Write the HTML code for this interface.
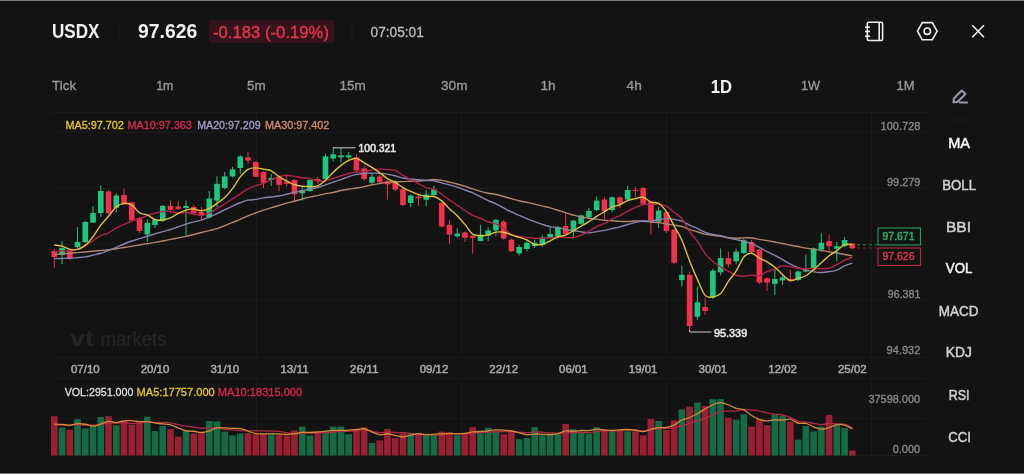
<!DOCTYPE html>
<html><head><meta charset="utf-8">
<style>
html,body{margin:0;padding:0;}
body{width:1024px;height:474px;overflow:hidden;background:#131313;position:relative;font-family:"Liberation Sans",sans-serif;}
#top{position:absolute;left:0;top:0;width:1024px;height:1px;background:#7f7f7f;}
#top2{position:absolute;left:0;top:1px;width:1024px;height:1px;background:#0b0b0b;}
#bot{position:absolute;left:0;top:473px;width:1024px;height:1px;background:#777;}
#bot2{position:absolute;left:0;top:472px;width:1024px;height:1px;background:#0c0c0c;}
svg{position:absolute;left:0;top:0;will-change:transform;filter:blur(0.35px);}
</style></head><body>
<div id="top"></div><div id="top2"></div><div id="bot2"></div><div id="bot"></div>
<svg width="1024" height="474" viewBox="0 0 1024 474">
<line x1="51" y1="112.5" x2="926" y2="112.5" stroke="#1b1b1b" stroke-width="1"/>
<line x1="51" y1="132.5" x2="926" y2="132.5" stroke="#1b1b1b" stroke-width="1"/>
<line x1="51" y1="188.5" x2="926" y2="188.5" stroke="#1b1b1b" stroke-width="1"/>
<line x1="51" y1="244.5" x2="926" y2="244.5" stroke="#1b1b1b" stroke-width="1"/>
<line x1="51" y1="300.5" x2="926" y2="300.5" stroke="#1b1b1b" stroke-width="1"/>
<line x1="51" y1="357.5" x2="926" y2="357.5" stroke="#1b1b1b" stroke-width="1"/>
<line x1="51" y1="378.5" x2="926" y2="378.5" stroke="#1b1b1b" stroke-width="1"/>
<line x1="51" y1="418.5" x2="926" y2="418.5" stroke="#1b1b1b" stroke-width="1"/>
<line x1="51" y1="455.5" x2="926" y2="455.5" stroke="#1b1b1b" stroke-width="1"/>
<line x1="256.5" y1="112.5" x2="256.5" y2="357.5" stroke="#1b1b1b" stroke-width="1"/>
<line x1="256.5" y1="378.5" x2="256.5" y2="455.5" stroke="#1b1b1b" stroke-width="1"/>
<line x1="461.5" y1="112.5" x2="461.5" y2="357.5" stroke="#1b1b1b" stroke-width="1"/>
<line x1="461.5" y1="378.5" x2="461.5" y2="455.5" stroke="#1b1b1b" stroke-width="1"/>
<line x1="666.5" y1="112.5" x2="666.5" y2="357.5" stroke="#1b1b1b" stroke-width="1"/>
<line x1="666.5" y1="378.5" x2="666.5" y2="455.5" stroke="#1b1b1b" stroke-width="1"/>
<line x1="871.5" y1="112.5" x2="871.5" y2="357.5" stroke="#1b1b1b" stroke-width="1"/>
<line x1="871.5" y1="378.5" x2="871.5" y2="455.5" stroke="#1b1b1b" stroke-width="1"/>
<text x="70" y="345.5" font-family="Liberation Sans" font-weight="bold" font-size="22" fill="#252525" textLength="24" lengthAdjust="spacingAndGlyphs">vt</text>
<text x="100.5" y="345.5" font-family="Liberation Sans" font-size="21" fill="#272727" textLength="66" lengthAdjust="spacingAndGlyphs">markets</text>
<rect x="51.00" y="416.20" width="6.6" height="39.30" fill="#9a1f33"/>
<rect x="58.75" y="427.60" width="6.6" height="27.90" fill="#156b45"/>
<rect x="66.50" y="429.70" width="6.6" height="25.80" fill="#9a1f33"/>
<rect x="74.24" y="419.20" width="6.6" height="36.30" fill="#156b45"/>
<rect x="81.99" y="428.50" width="6.6" height="27.00" fill="#156b45"/>
<rect x="89.74" y="426.00" width="6.6" height="29.50" fill="#156b45"/>
<rect x="97.49" y="417.00" width="6.6" height="38.50" fill="#156b45"/>
<rect x="105.24" y="416.20" width="6.6" height="39.30" fill="#9a1f33"/>
<rect x="112.98" y="425.30" width="6.6" height="30.20" fill="#156b45"/>
<rect x="120.73" y="420.30" width="6.6" height="35.20" fill="#9a1f33"/>
<rect x="128.48" y="424.70" width="6.6" height="30.80" fill="#9a1f33"/>
<rect x="136.23" y="421.50" width="6.6" height="34.00" fill="#9a1f33"/>
<rect x="143.98" y="416.70" width="6.6" height="38.80" fill="#156b45"/>
<rect x="151.72" y="431.00" width="6.6" height="24.50" fill="#156b45"/>
<rect x="159.47" y="426.00" width="6.6" height="29.50" fill="#156b45"/>
<rect x="167.22" y="429.00" width="6.6" height="26.50" fill="#9a1f33"/>
<rect x="174.97" y="436.70" width="6.6" height="18.80" fill="#9a1f33"/>
<rect x="182.72" y="431.00" width="6.6" height="24.50" fill="#156b45"/>
<rect x="190.46" y="433.50" width="6.6" height="22.00" fill="#9a1f33"/>
<rect x="198.21" y="432.30" width="6.6" height="23.20" fill="#9a1f33"/>
<rect x="205.96" y="420.90" width="6.6" height="34.60" fill="#156b45"/>
<rect x="213.71" y="421.50" width="6.6" height="34.00" fill="#156b45"/>
<rect x="221.46" y="431.60" width="6.6" height="23.90" fill="#156b45"/>
<rect x="229.20" y="435.40" width="6.6" height="20.10" fill="#156b45"/>
<rect x="236.95" y="433.50" width="6.6" height="22.00" fill="#156b45"/>
<rect x="244.70" y="433.20" width="6.6" height="22.30" fill="#9a1f33"/>
<rect x="252.45" y="434.20" width="6.6" height="21.30" fill="#9a1f33"/>
<rect x="260.20" y="433.50" width="6.6" height="22.00" fill="#9a1f33"/>
<rect x="267.94" y="434.20" width="6.6" height="21.30" fill="#156b45"/>
<rect x="275.69" y="434.80" width="6.6" height="20.70" fill="#9a1f33"/>
<rect x="283.44" y="435.40" width="6.6" height="20.10" fill="#9a1f33"/>
<rect x="291.19" y="430.40" width="6.6" height="25.10" fill="#9a1f33"/>
<rect x="298.94" y="426.60" width="6.6" height="28.90" fill="#156b45"/>
<rect x="306.68" y="435.40" width="6.6" height="20.10" fill="#156b45"/>
<rect x="314.43" y="432.30" width="6.6" height="23.20" fill="#9a1f33"/>
<rect x="322.18" y="431.00" width="6.6" height="24.50" fill="#156b45"/>
<rect x="329.93" y="426.60" width="6.6" height="28.90" fill="#156b45"/>
<rect x="337.68" y="426.60" width="6.6" height="28.90" fill="#156b45"/>
<rect x="345.42" y="434.20" width="6.6" height="21.30" fill="#156b45"/>
<rect x="353.17" y="429.10" width="6.6" height="26.40" fill="#9a1f33"/>
<rect x="360.92" y="427.20" width="6.6" height="28.30" fill="#9a1f33"/>
<rect x="368.67" y="443.00" width="6.6" height="12.50" fill="#156b45"/>
<rect x="376.42" y="440.50" width="6.6" height="15.00" fill="#9a1f33"/>
<rect x="384.16" y="428.90" width="6.6" height="26.60" fill="#9a1f33"/>
<rect x="391.91" y="438.00" width="6.6" height="17.50" fill="#9a1f33"/>
<rect x="399.66" y="433.50" width="6.6" height="22.00" fill="#9a1f33"/>
<rect x="407.41" y="434.20" width="6.6" height="21.30" fill="#156b45"/>
<rect x="415.16" y="433.50" width="6.6" height="22.00" fill="#9a1f33"/>
<rect x="422.90" y="435.40" width="6.6" height="20.10" fill="#156b45"/>
<rect x="430.65" y="434.20" width="6.6" height="21.30" fill="#156b45"/>
<rect x="438.40" y="431.60" width="6.6" height="23.90" fill="#9a1f33"/>
<rect x="446.15" y="432.30" width="6.6" height="23.20" fill="#9a1f33"/>
<rect x="453.90" y="435.40" width="6.6" height="20.10" fill="#156b45"/>
<rect x="461.64" y="433.00" width="6.6" height="22.50" fill="#9a1f33"/>
<rect x="469.39" y="427.20" width="6.6" height="28.30" fill="#9a1f33"/>
<rect x="477.14" y="430.40" width="6.6" height="25.10" fill="#156b45"/>
<rect x="484.89" y="427.80" width="6.6" height="27.70" fill="#156b45"/>
<rect x="492.64" y="431.00" width="6.6" height="24.50" fill="#156b45"/>
<rect x="500.38" y="434.20" width="6.6" height="21.30" fill="#9a1f33"/>
<rect x="508.13" y="431.60" width="6.6" height="23.90" fill="#9a1f33"/>
<rect x="515.88" y="439.20" width="6.6" height="16.30" fill="#156b45"/>
<rect x="523.63" y="438.00" width="6.6" height="17.50" fill="#156b45"/>
<rect x="531.38" y="427.20" width="6.6" height="28.30" fill="#156b45"/>
<rect x="539.12" y="435.40" width="6.6" height="20.10" fill="#156b45"/>
<rect x="546.87" y="433.50" width="6.6" height="22.00" fill="#156b45"/>
<rect x="554.62" y="434.20" width="6.6" height="21.30" fill="#156b45"/>
<rect x="562.37" y="424.00" width="6.6" height="31.50" fill="#9a1f33"/>
<rect x="570.12" y="429.10" width="6.6" height="26.40" fill="#156b45"/>
<rect x="577.86" y="431.60" width="6.6" height="23.90" fill="#156b45"/>
<rect x="585.61" y="433.50" width="6.6" height="22.00" fill="#156b45"/>
<rect x="593.36" y="427.20" width="6.6" height="28.30" fill="#156b45"/>
<rect x="601.11" y="429.10" width="6.6" height="26.40" fill="#9a1f33"/>
<rect x="608.86" y="430.40" width="6.6" height="25.10" fill="#156b45"/>
<rect x="616.60" y="429.40" width="6.6" height="26.10" fill="#9a1f33"/>
<rect x="624.35" y="431.40" width="6.6" height="24.10" fill="#156b45"/>
<rect x="632.10" y="431.40" width="6.6" height="24.10" fill="#9a1f33"/>
<rect x="639.85" y="435.50" width="6.6" height="20.00" fill="#9a1f33"/>
<rect x="647.60" y="419.00" width="6.6" height="36.50" fill="#9a1f33"/>
<rect x="655.34" y="421.00" width="6.6" height="34.50" fill="#156b45"/>
<rect x="663.09" y="430.00" width="6.6" height="25.50" fill="#9a1f33"/>
<rect x="670.84" y="420.40" width="6.6" height="35.10" fill="#9a1f33"/>
<rect x="678.59" y="409.40" width="6.6" height="46.10" fill="#156b45"/>
<rect x="686.34" y="406.70" width="6.6" height="48.80" fill="#9a1f33"/>
<rect x="694.08" y="402.50" width="6.6" height="53.00" fill="#156b45"/>
<rect x="701.83" y="406.00" width="6.6" height="49.50" fill="#9a1f33"/>
<rect x="709.58" y="399.10" width="6.6" height="56.40" fill="#156b45"/>
<rect x="717.33" y="399.10" width="6.6" height="56.40" fill="#156b45"/>
<rect x="725.08" y="417.60" width="6.6" height="37.90" fill="#9a1f33"/>
<rect x="732.82" y="419.70" width="6.6" height="35.80" fill="#156b45"/>
<rect x="740.57" y="414.20" width="6.6" height="41.30" fill="#156b45"/>
<rect x="748.32" y="426.60" width="6.6" height="28.90" fill="#9a1f33"/>
<rect x="756.07" y="419.00" width="6.6" height="36.50" fill="#9a1f33"/>
<rect x="763.82" y="425.20" width="6.6" height="30.30" fill="#9a1f33"/>
<rect x="771.56" y="414.20" width="6.6" height="41.30" fill="#156b45"/>
<rect x="779.31" y="415.60" width="6.6" height="39.90" fill="#156b45"/>
<rect x="787.06" y="421.70" width="6.6" height="33.80" fill="#9a1f33"/>
<rect x="794.81" y="439.60" width="6.6" height="15.90" fill="#156b45"/>
<rect x="802.56" y="425.90" width="6.6" height="29.60" fill="#156b45"/>
<rect x="810.30" y="431.40" width="6.6" height="24.10" fill="#156b45"/>
<rect x="818.05" y="426.60" width="6.6" height="28.90" fill="#156b45"/>
<rect x="825.80" y="414.90" width="6.6" height="40.60" fill="#9a1f33"/>
<rect x="833.55" y="424.50" width="6.6" height="31.00" fill="#156b45"/>
<rect x="841.30" y="428.00" width="6.6" height="27.50" fill="#156b45"/>
<rect x="849.04" y="450.60" width="6.6" height="4.90" fill="#9a1f33"/>
<path d="M54.30,425.02 C55.59,425.05 59.47,425.09 62.05,425.18 C64.63,425.27 67.21,425.60 69.80,425.55 C72.38,425.50 74.96,424.94 77.54,424.87 C80.13,424.80 82.71,425.08 85.29,425.12 C87.87,425.16 90.46,425.27 93.04,425.12 C95.62,424.97 98.21,424.53 100.79,424.22 C103.37,423.91 105.95,423.42 108.54,423.24 C111.12,423.06 113.70,423.28 116.28,423.17 C118.87,423.06 121.45,422.55 124.03,422.60 C126.61,422.65 129.20,423.41 131.78,423.45 C134.36,423.49 136.95,423.16 139.53,422.84 C142.11,422.52 144.69,421.56 147.28,421.54 C149.86,421.52 152.44,422.57 155.02,422.72 C157.61,422.88 160.19,422.46 162.77,422.47 C165.35,422.48 167.94,422.39 170.52,422.77 C173.10,423.15 175.69,424.17 178.27,424.74 C180.85,425.31 183.43,425.84 186.02,426.22 C188.60,426.60 191.18,426.70 193.76,427.04 C196.35,427.38 198.93,428.10 201.51,428.24 C204.09,428.38 206.68,427.92 209.26,427.86 C211.84,427.80 214.43,427.61 217.01,427.86 C219.59,428.11 222.17,429.03 224.76,429.35 C227.34,429.67 229.92,429.59 232.50,429.79 C235.09,429.99 237.67,430.35 240.25,430.54 C242.83,430.74 245.42,430.93 248.00,430.96 C250.58,430.99 253.17,430.71 255.75,430.71 C258.33,430.71 260.91,430.91 263.50,430.96 C266.08,431.01 268.66,430.98 271.24,431.03 C273.83,431.08 276.41,431.00 278.99,431.28 C281.57,431.56 284.16,432.34 286.74,432.73 C289.32,433.12 291.91,433.56 294.49,433.62 C297.07,433.69 299.65,433.20 302.24,433.12 C304.82,433.04 307.40,433.14 309.98,433.12 C312.57,433.10 315.15,433.06 317.73,433.00 C320.31,432.94 322.90,432.94 325.48,432.78 C328.06,432.62 330.65,432.26 333.23,432.02 C335.81,431.78 338.39,431.44 340.98,431.33 C343.56,431.21 346.14,431.42 348.72,431.33 C351.31,431.24 353.89,430.99 356.47,430.76 C359.05,430.53 361.64,429.87 364.22,429.94 C366.80,430.01 369.39,430.76 371.97,431.20 C374.55,431.64 377.13,432.47 379.72,432.59 C382.30,432.71 384.88,431.95 387.46,431.94 C390.05,431.93 392.63,432.37 395.21,432.51 C397.79,432.65 400.38,432.59 402.96,432.76 C405.54,432.93 408.13,433.28 410.71,433.52 C413.29,433.76 415.87,434.07 418.46,434.21 C421.04,434.34 423.62,434.22 426.20,434.33 C428.79,434.44 431.37,434.68 433.95,434.84 C436.53,435.00 439.12,435.38 441.70,435.28 C444.28,435.17 446.87,434.47 449.45,434.21 C452.03,433.95 454.61,433.72 457.20,433.70 C459.78,433.68 462.36,434.22 464.94,434.11 C467.53,434.00 470.11,433.26 472.69,433.03 C475.27,432.80 477.86,432.88 480.44,432.72 C483.02,432.56 485.61,432.23 488.19,432.08 C490.77,431.93 493.35,431.89 495.94,431.83 C498.52,431.77 501.10,431.77 503.68,431.71 C506.27,431.65 508.85,431.37 511.43,431.45 C514.01,431.53 516.60,431.99 519.18,432.21 C521.76,432.43 524.35,432.82 526.93,432.78 C529.51,432.74 532.09,432.06 534.68,431.96 C537.26,431.86 539.84,432.06 542.42,432.20 C545.01,432.34 547.59,432.66 550.17,432.83 C552.75,433.00 555.34,433.21 557.92,433.21 C560.50,433.21 563.09,432.92 565.67,432.83 C568.25,432.74 570.83,432.71 573.42,432.64 C576.00,432.56 578.58,432.39 581.16,432.38 C583.75,432.37 586.33,432.74 588.91,432.57 C591.49,432.40 594.08,431.72 596.66,431.37 C599.24,431.02 601.83,430.58 604.41,430.48 C606.99,430.38 609.57,430.85 612.16,430.80 C614.74,430.75 617.32,430.33 619.90,430.20 C622.49,430.06 625.07,430.07 627.65,429.99 C630.23,429.91 632.82,429.56 635.40,429.71 C637.98,429.85 640.57,430.84 643.15,430.86 C645.73,430.88 648.31,430.20 650.90,429.85 C653.48,429.50 656.06,429.02 658.64,428.79 C661.23,428.55 663.81,428.61 666.39,428.44 C668.97,428.27 671.56,428.20 674.14,427.76 C676.72,427.32 679.31,426.51 681.89,425.79 C684.47,425.07 687.05,424.26 689.64,423.42 C692.22,422.58 694.80,421.60 697.38,420.73 C699.97,419.86 702.55,419.15 705.13,418.19 C707.71,417.23 710.30,416.10 712.88,414.96 C715.46,413.81 718.05,411.95 720.63,411.32 C723.21,410.69 725.79,411.23 728.38,411.18 C730.96,411.13 733.54,411.34 736.12,411.05 C738.71,410.76 741.29,409.63 743.87,409.47 C746.45,409.31 749.04,409.83 751.62,410.09 C754.20,410.35 756.79,410.58 759.37,411.05 C761.95,411.52 764.53,412.40 767.12,412.90 C769.70,413.40 772.28,413.71 774.86,414.07 C777.45,414.43 780.03,414.49 782.61,415.03 C785.19,415.57 787.78,416.24 790.36,417.29 C792.94,418.34 795.53,420.53 798.11,421.34 C800.69,422.15 803.27,421.84 805.86,422.17 C808.44,422.50 811.02,422.94 813.60,423.34 C816.19,423.74 818.77,424.57 821.35,424.58 C823.93,424.59 826.52,423.51 829.10,423.41 C831.68,423.31 834.27,423.82 836.85,423.96 C839.43,424.10 842.01,423.59 844.60,424.24 C847.18,424.89 851.05,427.27 852.34,427.88" fill="none" stroke="#b02842" stroke-width="1.3"/>
<path d="M54.30,424.04 C55.59,424.09 59.47,424.18 62.05,424.36 C64.63,424.54 67.21,425.20 69.80,425.10 C72.38,425.00 74.96,423.88 77.54,423.74 C80.13,423.60 82.71,423.83 85.29,424.24 C87.87,424.65 90.46,426.23 93.04,426.20 C95.62,426.17 98.21,424.88 100.79,424.08 C103.37,423.28 105.95,421.63 108.54,421.38 C111.12,421.13 113.70,422.67 116.28,422.60 C118.87,422.53 121.45,421.28 124.03,420.96 C126.61,420.64 129.20,420.59 131.78,420.70 C134.36,420.81 136.95,421.43 139.53,421.60 C142.11,421.77 144.69,421.49 147.28,421.70 C149.86,421.91 152.44,422.46 155.02,422.84 C157.61,423.22 160.19,423.65 162.77,423.98 C165.35,424.31 167.94,424.19 170.52,424.84 C173.10,425.49 175.69,426.90 178.27,427.88 C180.85,428.86 183.43,430.18 186.02,430.74 C188.60,431.30 191.18,430.95 193.76,431.24 C196.35,431.53 198.93,432.56 201.51,432.50 C204.09,432.44 206.68,431.66 209.26,430.88 C211.84,430.10 214.43,428.33 217.01,427.84 C219.59,427.35 222.17,427.88 224.76,427.96 C227.34,428.04 229.92,428.24 232.50,428.34 C235.09,428.44 237.67,428.13 240.25,428.58 C242.83,429.03 245.42,430.21 248.00,431.04 C250.58,431.87 253.17,433.09 255.75,433.58 C258.33,434.07 260.91,433.94 263.50,433.96 C266.08,433.98 268.66,433.72 271.24,433.72 C273.83,433.72 276.41,433.86 278.99,433.98 C281.57,434.10 284.16,434.47 286.74,434.42 C289.32,434.37 291.91,434.02 294.49,433.66 C297.07,433.30 299.65,432.47 302.24,432.28 C304.82,432.09 307.40,432.56 309.98,432.52 C312.57,432.48 315.15,432.25 317.73,432.02 C320.31,431.79 322.90,431.41 325.48,431.14 C328.06,430.87 330.65,430.51 333.23,430.38 C335.81,430.25 338.39,430.42 340.98,430.38 C343.56,430.34 346.14,430.29 348.72,430.14 C351.31,429.99 353.89,429.73 356.47,429.50 C359.05,429.27 361.64,428.32 364.22,428.74 C366.80,429.16 369.39,431.01 371.97,432.02 C374.55,433.03 377.13,434.51 379.72,434.80 C382.30,435.09 384.88,433.62 387.46,433.74 C390.05,433.86 392.63,435.01 395.21,435.52 C397.79,436.03 400.38,436.86 402.96,436.78 C405.54,436.70 408.13,435.55 410.71,435.02 C413.29,434.49 415.87,433.64 418.46,433.62 C421.04,433.60 423.62,434.83 426.20,434.92 C428.79,435.01 431.37,434.35 433.95,434.16 C436.53,433.97 439.12,433.91 441.70,433.78 C444.28,433.65 446.87,433.40 449.45,433.40 C452.03,433.40 454.61,433.80 457.20,433.78 C459.78,433.76 462.36,433.61 464.94,433.30 C467.53,432.99 470.11,432.17 472.69,431.90 C475.27,431.63 477.86,431.85 480.44,431.66 C483.02,431.47 485.61,431.06 488.19,430.76 C490.77,430.46 493.35,429.99 495.94,429.88 C498.52,429.77 501.10,429.93 503.68,430.12 C506.27,430.31 508.85,430.56 511.43,431.00 C514.01,431.44 516.60,432.13 519.18,432.76 C521.76,433.39 524.35,434.59 526.93,434.80 C529.51,435.01 532.09,434.13 534.68,434.04 C537.26,433.95 539.84,434.18 542.42,434.28 C545.01,434.38 547.59,434.76 550.17,434.66 C552.75,434.56 555.34,434.29 557.92,433.66 C560.50,433.03 563.09,431.26 565.67,430.86 C568.25,430.46 570.83,431.30 573.42,431.24 C576.00,431.18 578.58,430.61 581.16,430.48 C583.75,430.35 586.33,430.71 588.91,430.48 C591.49,430.25 594.08,429.14 596.66,429.08 C599.24,429.02 601.83,429.89 604.41,430.10 C606.99,430.31 609.57,430.39 612.16,430.36 C614.74,430.33 617.32,430.06 619.90,429.92 C622.49,429.78 625.07,429.43 627.65,429.50 C630.23,429.57 632.82,429.99 635.40,430.34 C637.98,430.69 640.57,431.79 643.15,431.62 C645.73,431.45 648.31,430.00 650.90,429.34 C653.48,428.68 656.06,427.99 658.64,427.66 C661.23,427.33 663.81,427.79 666.39,427.38 C668.97,426.97 671.56,426.42 674.14,425.18 C676.72,423.94 679.31,421.24 681.89,419.96 C684.47,418.68 687.05,418.53 689.64,417.50 C692.22,416.47 694.80,415.22 697.38,413.80 C699.97,412.38 702.55,410.51 705.13,409.00 C707.71,407.49 710.30,405.79 712.88,404.74 C715.46,403.69 718.05,402.66 720.63,402.68 C723.21,402.70 725.79,403.92 728.38,404.86 C730.96,405.80 733.54,407.45 736.12,408.30 C738.71,409.15 741.29,408.75 743.87,409.94 C746.45,411.13 749.04,413.86 751.62,415.44 C754.20,417.02 756.79,418.50 759.37,419.42 C761.95,420.34 764.53,420.87 767.12,420.94 C769.70,421.01 772.28,419.98 774.86,419.84 C777.45,419.70 780.03,420.24 782.61,420.12 C785.19,420.00 787.78,418.62 790.36,419.14 C792.94,419.66 795.53,422.55 798.11,423.26 C800.69,423.97 803.27,422.80 805.86,423.40 C808.44,424.00 811.02,425.90 813.60,426.84 C816.19,427.78 818.77,428.90 821.35,429.04 C823.93,429.18 826.52,428.41 829.10,427.68 C831.68,426.95 834.27,425.09 836.85,424.66 C839.43,424.23 842.01,424.37 844.60,425.08 C847.18,425.79 851.05,428.28 852.34,428.92" fill="none" stroke="#d58a3c" stroke-width="1.3"/>
<line x1="54.30" y1="249.0" x2="54.30" y2="268.0" stroke="#f5304a" stroke-width="1"/>
<rect x="51.50" y="251.0" width="5.6" height="6.00" fill="#f5304a"/>
<line x1="62.05" y1="241.0" x2="62.05" y2="264.0" stroke="#1ec77f" stroke-width="1"/>
<rect x="59.25" y="248.0" width="5.6" height="7.00" fill="#1ec77f"/>
<line x1="69.80" y1="249.0" x2="69.80" y2="260.0" stroke="#f5304a" stroke-width="1"/>
<rect x="67.00" y="251.0" width="5.6" height="7.00" fill="#f5304a"/>
<line x1="77.54" y1="227.0" x2="77.54" y2="248.0" stroke="#1ec77f" stroke-width="1"/>
<rect x="74.74" y="242.0" width="5.6" height="5.00" fill="#1ec77f"/>
<line x1="85.29" y1="221.0" x2="85.29" y2="243.0" stroke="#1ec77f" stroke-width="1"/>
<rect x="82.49" y="222.0" width="5.6" height="20.00" fill="#1ec77f"/>
<line x1="93.04" y1="206.0" x2="93.04" y2="223.0" stroke="#1ec77f" stroke-width="1"/>
<rect x="90.24" y="213.0" width="5.6" height="9.50" fill="#1ec77f"/>
<line x1="100.79" y1="185.5" x2="100.79" y2="217.0" stroke="#1ec77f" stroke-width="1"/>
<rect x="97.99" y="191.0" width="5.6" height="22.00" fill="#1ec77f"/>
<line x1="108.54" y1="190.0" x2="108.54" y2="214.0" stroke="#f5304a" stroke-width="1"/>
<rect x="105.74" y="191.5" width="5.6" height="21.50" fill="#f5304a"/>
<line x1="116.28" y1="193.5" x2="116.28" y2="212.0" stroke="#1ec77f" stroke-width="1"/>
<rect x="113.48" y="195.5" width="5.6" height="12.20" fill="#1ec77f"/>
<line x1="124.03" y1="188.5" x2="124.03" y2="205.0" stroke="#f5304a" stroke-width="1"/>
<rect x="121.23" y="195.0" width="5.6" height="9.50" fill="#f5304a"/>
<line x1="131.78" y1="202.0" x2="131.78" y2="221.0" stroke="#f5304a" stroke-width="1"/>
<rect x="128.98" y="202.4" width="5.6" height="18.00" fill="#f5304a"/>
<line x1="139.53" y1="217.0" x2="139.53" y2="233.0" stroke="#f5304a" stroke-width="1"/>
<rect x="136.73" y="218.0" width="5.6" height="13.00" fill="#f5304a"/>
<line x1="147.28" y1="219.6" x2="147.28" y2="241.8" stroke="#1ec77f" stroke-width="1"/>
<rect x="144.48" y="222.8" width="5.6" height="11.60" fill="#1ec77f"/>
<line x1="155.02" y1="218.6" x2="155.02" y2="228.0" stroke="#1ec77f" stroke-width="1"/>
<rect x="152.22" y="219.6" width="5.6" height="5.30" fill="#1ec77f"/>
<line x1="162.77" y1="205.0" x2="162.77" y2="222.0" stroke="#1ec77f" stroke-width="1"/>
<rect x="159.97" y="205.9" width="5.6" height="14.80" fill="#1ec77f"/>
<line x1="170.52" y1="200.6" x2="170.52" y2="213.3" stroke="#f5304a" stroke-width="1"/>
<rect x="167.72" y="205.9" width="5.6" height="4.10" fill="#f5304a"/>
<line x1="178.27" y1="200.6" x2="178.27" y2="210.0" stroke="#f5304a" stroke-width="1"/>
<rect x="175.47" y="206.5" width="5.6" height="2.50" fill="#f5304a"/>
<line x1="186.02" y1="200.6" x2="186.02" y2="235.4" stroke="#1ec77f" stroke-width="1"/>
<rect x="183.22" y="206.0" width="5.6" height="2.00" fill="#1ec77f"/>
<line x1="193.76" y1="205.0" x2="193.76" y2="214.0" stroke="#f5304a" stroke-width="1"/>
<rect x="190.96" y="207.0" width="5.6" height="6.30" fill="#f5304a"/>
<line x1="201.51" y1="207.0" x2="201.51" y2="219.6" stroke="#f5304a" stroke-width="1"/>
<rect x="198.71" y="212.0" width="5.6" height="3.40" fill="#f5304a"/>
<line x1="209.26" y1="191.0" x2="209.26" y2="218.6" stroke="#1ec77f" stroke-width="1"/>
<rect x="206.46" y="198.5" width="5.6" height="19.00" fill="#1ec77f"/>
<line x1="217.01" y1="176.4" x2="217.01" y2="207.0" stroke="#1ec77f" stroke-width="1"/>
<rect x="214.21" y="183.8" width="5.6" height="16.80" fill="#1ec77f"/>
<line x1="224.76" y1="172.0" x2="224.76" y2="189.0" stroke="#1ec77f" stroke-width="1"/>
<rect x="221.96" y="176.4" width="5.6" height="11.60" fill="#1ec77f"/>
<line x1="232.50" y1="167.0" x2="232.50" y2="177.4" stroke="#1ec77f" stroke-width="1"/>
<rect x="229.70" y="169.4" width="5.6" height="7.00" fill="#1ec77f"/>
<line x1="240.25" y1="155.0" x2="240.25" y2="174.0" stroke="#1ec77f" stroke-width="1"/>
<rect x="237.45" y="156.4" width="5.6" height="11.60" fill="#1ec77f"/>
<line x1="248.00" y1="152.0" x2="248.00" y2="163.8" stroke="#f5304a" stroke-width="1"/>
<rect x="245.20" y="157.4" width="5.6" height="3.20" fill="#f5304a"/>
<line x1="255.75" y1="161.0" x2="255.75" y2="177.0" stroke="#f5304a" stroke-width="1"/>
<rect x="252.95" y="162.0" width="5.6" height="14.80" fill="#f5304a"/>
<line x1="263.50" y1="171.0" x2="263.50" y2="188.0" stroke="#f5304a" stroke-width="1"/>
<rect x="260.70" y="172.0" width="5.6" height="10.70" fill="#f5304a"/>
<line x1="271.24" y1="174.0" x2="271.24" y2="186.0" stroke="#1ec77f" stroke-width="1"/>
<rect x="268.44" y="178.0" width="5.6" height="2.00" fill="#1ec77f"/>
<line x1="278.99" y1="175.0" x2="278.99" y2="191.0" stroke="#f5304a" stroke-width="1"/>
<rect x="276.19" y="176.8" width="5.6" height="8.10" fill="#f5304a"/>
<line x1="286.74" y1="175.0" x2="286.74" y2="187.0" stroke="#f5304a" stroke-width="1"/>
<rect x="283.94" y="181.7" width="5.6" height="2.10" fill="#f5304a"/>
<line x1="294.49" y1="179.0" x2="294.49" y2="200.7" stroke="#f5304a" stroke-width="1"/>
<rect x="291.69" y="180.0" width="5.6" height="14.30" fill="#f5304a"/>
<line x1="302.24" y1="187.0" x2="302.24" y2="200.7" stroke="#1ec77f" stroke-width="1"/>
<rect x="299.44" y="190.0" width="5.6" height="3.30" fill="#1ec77f"/>
<line x1="309.98" y1="178.5" x2="309.98" y2="192.0" stroke="#1ec77f" stroke-width="1"/>
<rect x="307.18" y="180.0" width="5.6" height="11.00" fill="#1ec77f"/>
<line x1="317.73" y1="176.8" x2="317.73" y2="183.8" stroke="#f5304a" stroke-width="1"/>
<rect x="314.93" y="179.0" width="5.6" height="2.00" fill="#f5304a"/>
<line x1="325.48" y1="153.6" x2="325.48" y2="179.6" stroke="#1ec77f" stroke-width="1"/>
<rect x="322.68" y="156.4" width="5.6" height="22.60" fill="#1ec77f"/>
<line x1="333.23" y1="147.3" x2="333.23" y2="161.6" stroke="#1ec77f" stroke-width="1"/>
<rect x="330.43" y="154.3" width="5.6" height="4.20" fill="#1ec77f"/>
<line x1="340.98" y1="148.0" x2="340.98" y2="162.7" stroke="#1ec77f" stroke-width="1"/>
<rect x="338.18" y="155.3" width="5.6" height="2.10" fill="#1ec77f"/>
<line x1="348.72" y1="152.0" x2="348.72" y2="159.5" stroke="#1ec77f" stroke-width="1"/>
<rect x="345.92" y="155.3" width="5.6" height="2.10" fill="#1ec77f"/>
<line x1="356.47" y1="154.3" x2="356.47" y2="173.0" stroke="#f5304a" stroke-width="1"/>
<rect x="353.67" y="157.4" width="5.6" height="13.10" fill="#f5304a"/>
<line x1="364.22" y1="166.0" x2="364.22" y2="180.6" stroke="#f5304a" stroke-width="1"/>
<rect x="361.42" y="168.4" width="5.6" height="10.60" fill="#f5304a"/>
<line x1="371.97" y1="173.0" x2="371.97" y2="184.9" stroke="#1ec77f" stroke-width="1"/>
<rect x="369.17" y="176.8" width="5.6" height="5.90" fill="#1ec77f"/>
<line x1="379.72" y1="174.7" x2="379.72" y2="183.8" stroke="#f5304a" stroke-width="1"/>
<rect x="376.92" y="176.4" width="5.6" height="5.90" fill="#f5304a"/>
<line x1="387.46" y1="179.6" x2="387.46" y2="199.6" stroke="#f5304a" stroke-width="1"/>
<rect x="384.66" y="181.3" width="5.6" height="3.10" fill="#f5304a"/>
<line x1="395.21" y1="180.0" x2="395.21" y2="191.0" stroke="#f5304a" stroke-width="1"/>
<rect x="392.41" y="182.3" width="5.6" height="7.20" fill="#f5304a"/>
<line x1="402.96" y1="188.0" x2="402.96" y2="206.0" stroke="#f5304a" stroke-width="1"/>
<rect x="400.16" y="189.3" width="5.6" height="15.70" fill="#f5304a"/>
<line x1="410.71" y1="194.3" x2="410.71" y2="207.2" stroke="#1ec77f" stroke-width="1"/>
<rect x="407.91" y="195.5" width="5.6" height="7.50" fill="#1ec77f"/>
<line x1="418.46" y1="194.5" x2="418.46" y2="206.0" stroke="#f5304a" stroke-width="1"/>
<rect x="415.66" y="196.6" width="5.6" height="1.70" fill="#f5304a"/>
<line x1="426.20" y1="190.0" x2="426.20" y2="206.0" stroke="#1ec77f" stroke-width="1"/>
<rect x="423.40" y="194.5" width="5.6" height="5.30" fill="#1ec77f"/>
<line x1="433.95" y1="186.0" x2="433.95" y2="196.6" stroke="#1ec77f" stroke-width="1"/>
<rect x="431.15" y="189.3" width="5.6" height="5.70" fill="#1ec77f"/>
<line x1="441.70" y1="202.0" x2="441.70" y2="227.5" stroke="#f5304a" stroke-width="1"/>
<rect x="438.90" y="203.0" width="5.6" height="23.60" fill="#f5304a"/>
<line x1="449.45" y1="219.9" x2="449.45" y2="244.0" stroke="#f5304a" stroke-width="1"/>
<rect x="446.65" y="225.0" width="5.6" height="9.60" fill="#f5304a"/>
<line x1="457.20" y1="228.3" x2="457.20" y2="237.8" stroke="#1ec77f" stroke-width="1"/>
<rect x="454.40" y="233.6" width="5.6" height="2.70" fill="#1ec77f"/>
<line x1="464.94" y1="231.5" x2="464.94" y2="242.0" stroke="#f5304a" stroke-width="1"/>
<rect x="462.14" y="232.5" width="5.6" height="5.30" fill="#f5304a"/>
<line x1="472.69" y1="235.7" x2="472.69" y2="253.6" stroke="#f5304a" stroke-width="1"/>
<rect x="469.89" y="235.7" width="5.6" height="2.10" fill="#f5304a"/>
<line x1="480.44" y1="225.0" x2="480.44" y2="241.4" stroke="#1ec77f" stroke-width="1"/>
<rect x="477.64" y="234.6" width="5.6" height="6.40" fill="#1ec77f"/>
<line x1="488.19" y1="227.2" x2="488.19" y2="241.0" stroke="#1ec77f" stroke-width="1"/>
<rect x="485.39" y="230.4" width="5.6" height="5.30" fill="#1ec77f"/>
<line x1="495.94" y1="218.8" x2="495.94" y2="235.7" stroke="#1ec77f" stroke-width="1"/>
<rect x="493.14" y="219.9" width="5.6" height="10.50" fill="#1ec77f"/>
<line x1="503.68" y1="220.0" x2="503.68" y2="239.6" stroke="#f5304a" stroke-width="1"/>
<rect x="500.88" y="221.7" width="5.6" height="16.90" fill="#f5304a"/>
<line x1="511.43" y1="238.6" x2="511.43" y2="252.2" stroke="#f5304a" stroke-width="1"/>
<rect x="508.63" y="239.6" width="5.6" height="11.60" fill="#f5304a"/>
<line x1="519.18" y1="245.0" x2="519.18" y2="255.4" stroke="#1ec77f" stroke-width="1"/>
<rect x="516.38" y="247.0" width="5.6" height="6.30" fill="#1ec77f"/>
<line x1="526.93" y1="239.6" x2="526.93" y2="251.2" stroke="#1ec77f" stroke-width="1"/>
<rect x="524.13" y="242.8" width="5.6" height="6.20" fill="#1ec77f"/>
<line x1="534.68" y1="239.6" x2="534.68" y2="248.0" stroke="#1ec77f" stroke-width="1"/>
<rect x="531.88" y="242.8" width="5.6" height="3.20" fill="#1ec77f"/>
<line x1="542.42" y1="235.4" x2="542.42" y2="247.0" stroke="#1ec77f" stroke-width="1"/>
<rect x="539.62" y="237.5" width="5.6" height="7.50" fill="#1ec77f"/>
<line x1="550.17" y1="226.0" x2="550.17" y2="238.6" stroke="#1ec77f" stroke-width="1"/>
<rect x="547.37" y="234.0" width="5.6" height="4.00" fill="#1ec77f"/>
<line x1="557.92" y1="226.0" x2="557.92" y2="238.6" stroke="#1ec77f" stroke-width="1"/>
<rect x="555.12" y="227.0" width="5.6" height="10.50" fill="#1ec77f"/>
<line x1="565.67" y1="212.0" x2="565.67" y2="235.4" stroke="#f5304a" stroke-width="1"/>
<rect x="562.87" y="226.0" width="5.6" height="8.30" fill="#f5304a"/>
<line x1="573.42" y1="220.0" x2="573.42" y2="238.6" stroke="#1ec77f" stroke-width="1"/>
<rect x="570.62" y="220.6" width="5.6" height="10.60" fill="#1ec77f"/>
<line x1="581.16" y1="214.5" x2="581.16" y2="225.0" stroke="#1ec77f" stroke-width="1"/>
<rect x="578.36" y="215.4" width="5.6" height="8.40" fill="#1ec77f"/>
<line x1="588.91" y1="208.0" x2="588.91" y2="218.5" stroke="#1ec77f" stroke-width="1"/>
<rect x="586.11" y="211.0" width="5.6" height="6.50" fill="#1ec77f"/>
<line x1="596.66" y1="196.4" x2="596.66" y2="211.0" stroke="#1ec77f" stroke-width="1"/>
<rect x="593.86" y="200.6" width="5.6" height="9.40" fill="#1ec77f"/>
<line x1="604.41" y1="197.0" x2="604.41" y2="219.6" stroke="#f5304a" stroke-width="1"/>
<rect x="601.61" y="199.5" width="5.6" height="11.50" fill="#f5304a"/>
<line x1="612.16" y1="196.4" x2="612.16" y2="212.2" stroke="#1ec77f" stroke-width="1"/>
<rect x="609.36" y="197.4" width="5.6" height="12.60" fill="#1ec77f"/>
<line x1="619.90" y1="196.4" x2="619.90" y2="208.0" stroke="#f5304a" stroke-width="1"/>
<rect x="617.10" y="197.4" width="5.6" height="6.40" fill="#f5304a"/>
<line x1="627.65" y1="185.8" x2="627.65" y2="200.6" stroke="#1ec77f" stroke-width="1"/>
<rect x="624.85" y="190.0" width="5.6" height="9.50" fill="#1ec77f"/>
<line x1="635.40" y1="186.9" x2="635.40" y2="197.4" stroke="#f5304a" stroke-width="1"/>
<rect x="632.60" y="190.0" width="5.6" height="1.00" fill="#f5304a"/>
<line x1="643.15" y1="187.0" x2="643.15" y2="204.8" stroke="#f5304a" stroke-width="1"/>
<rect x="640.35" y="188.0" width="5.6" height="15.80" fill="#f5304a"/>
<line x1="650.90" y1="200.6" x2="650.90" y2="234.3" stroke="#f5304a" stroke-width="1"/>
<rect x="648.10" y="201.6" width="5.6" height="20.10" fill="#f5304a"/>
<line x1="658.64" y1="207.0" x2="658.64" y2="228.0" stroke="#1ec77f" stroke-width="1"/>
<rect x="655.84" y="210.6" width="5.6" height="11.00" fill="#1ec77f"/>
<line x1="666.39" y1="211.0" x2="666.39" y2="233.0" stroke="#f5304a" stroke-width="1"/>
<rect x="663.59" y="212.0" width="5.6" height="19.00" fill="#f5304a"/>
<line x1="674.14" y1="228.5" x2="674.14" y2="264.0" stroke="#f5304a" stroke-width="1"/>
<rect x="671.34" y="229.6" width="5.6" height="33.20" fill="#f5304a"/>
<line x1="681.89" y1="266.0" x2="681.89" y2="286.5" stroke="#1ec77f" stroke-width="1"/>
<rect x="679.09" y="274.8" width="5.6" height="5.40" fill="#1ec77f"/>
<line x1="689.64" y1="271.6" x2="689.64" y2="330.0" stroke="#f5304a" stroke-width="1"/>
<rect x="686.84" y="274.8" width="5.6" height="51.20" fill="#f5304a"/>
<line x1="697.38" y1="286.5" x2="697.38" y2="319.7" stroke="#1ec77f" stroke-width="1"/>
<rect x="694.58" y="302.3" width="5.6" height="14.30" fill="#1ec77f"/>
<line x1="705.13" y1="297.6" x2="705.13" y2="315.0" stroke="#f5304a" stroke-width="1"/>
<rect x="702.33" y="307.0" width="5.6" height="4.00" fill="#f5304a"/>
<line x1="712.88" y1="269.0" x2="712.88" y2="299.0" stroke="#1ec77f" stroke-width="1"/>
<rect x="710.08" y="270.7" width="5.6" height="26.90" fill="#1ec77f"/>
<line x1="720.63" y1="248.5" x2="720.63" y2="275.4" stroke="#1ec77f" stroke-width="1"/>
<rect x="717.83" y="258.0" width="5.6" height="14.30" fill="#1ec77f"/>
<line x1="728.38" y1="251.7" x2="728.38" y2="267.5" stroke="#f5304a" stroke-width="1"/>
<rect x="725.58" y="258.0" width="5.6" height="6.40" fill="#f5304a"/>
<line x1="736.12" y1="248.5" x2="736.12" y2="264.4" stroke="#1ec77f" stroke-width="1"/>
<rect x="733.32" y="251.7" width="5.6" height="9.50" fill="#1ec77f"/>
<line x1="743.87" y1="239.0" x2="743.87" y2="254.0" stroke="#1ec77f" stroke-width="1"/>
<rect x="741.07" y="240.3" width="5.6" height="12.70" fill="#1ec77f"/>
<line x1="751.62" y1="240.0" x2="751.62" y2="253.0" stroke="#f5304a" stroke-width="1"/>
<rect x="748.82" y="242.0" width="5.6" height="10.00" fill="#f5304a"/>
<line x1="759.37" y1="248.7" x2="759.37" y2="284.2" stroke="#f5304a" stroke-width="1"/>
<rect x="756.57" y="249.6" width="5.6" height="32.90" fill="#f5304a"/>
<line x1="767.12" y1="277.4" x2="767.12" y2="291.0" stroke="#f5304a" stroke-width="1"/>
<rect x="764.32" y="278.3" width="5.6" height="4.20" fill="#f5304a"/>
<line x1="774.86" y1="269.8" x2="774.86" y2="295.2" stroke="#1ec77f" stroke-width="1"/>
<rect x="772.06" y="279.0" width="5.6" height="4.90" fill="#1ec77f"/>
<line x1="782.61" y1="275.0" x2="782.61" y2="285.0" stroke="#1ec77f" stroke-width="1"/>
<rect x="779.81" y="277.4" width="5.6" height="3.10" fill="#1ec77f"/>
<line x1="790.36" y1="269.8" x2="790.36" y2="282.5" stroke="#f5304a" stroke-width="1"/>
<rect x="787.56" y="278.8" width="5.6" height="2.30" fill="#f5304a"/>
<line x1="798.11" y1="270.5" x2="798.11" y2="281.0" stroke="#1ec77f" stroke-width="1"/>
<rect x="795.31" y="271.5" width="5.6" height="8.50" fill="#1ec77f"/>
<line x1="805.86" y1="254.6" x2="805.86" y2="272.4" stroke="#1ec77f" stroke-width="1"/>
<rect x="803.06" y="269.8" width="5.6" height="1.70" fill="#1ec77f"/>
<line x1="813.60" y1="247.5" x2="813.60" y2="269.0" stroke="#1ec77f" stroke-width="1"/>
<rect x="810.80" y="248.4" width="5.6" height="19.70" fill="#1ec77f"/>
<line x1="821.35" y1="233.5" x2="821.35" y2="252.0" stroke="#1ec77f" stroke-width="1"/>
<rect x="818.55" y="242.8" width="5.6" height="6.80" fill="#1ec77f"/>
<line x1="829.10" y1="234.4" x2="829.10" y2="252.0" stroke="#f5304a" stroke-width="1"/>
<rect x="826.30" y="241.0" width="5.6" height="5.20" fill="#f5304a"/>
<line x1="836.85" y1="242.0" x2="836.85" y2="261.4" stroke="#1ec77f" stroke-width="1"/>
<rect x="834.05" y="246.2" width="5.6" height="2.50" fill="#1ec77f"/>
<line x1="844.60" y1="237.0" x2="844.60" y2="247.0" stroke="#1ec77f" stroke-width="1"/>
<rect x="841.80" y="240.0" width="5.6" height="6.20" fill="#1ec77f"/>
<line x1="852.34" y1="243.0" x2="852.34" y2="249.0" stroke="#f5304a" stroke-width="1"/>
<rect x="849.54" y="243.3" width="5.6" height="5.10" fill="#f5304a"/>
<path d="M54.30,254.50 C55.59,254.40 59.47,254.09 62.05,253.89 C64.63,253.69 67.21,253.48 69.80,253.28 C72.38,253.07 74.96,252.89 77.54,252.67 C80.13,252.44 82.71,252.18 85.29,251.94 C87.87,251.69 90.46,251.44 93.04,251.19 C95.62,250.95 98.21,250.70 100.79,250.45 C103.37,250.20 105.95,249.98 108.54,249.71 C111.12,249.43 113.70,249.16 116.28,248.79 C118.87,248.43 121.45,247.94 124.03,247.51 C126.61,247.09 129.20,246.66 131.78,246.24 C134.36,245.81 136.95,245.39 139.53,244.96 C142.11,244.53 144.69,244.11 147.28,243.68 C149.86,243.26 152.44,242.86 155.02,242.41 C157.61,241.95 160.19,241.46 162.77,240.97 C165.35,240.47 167.94,239.93 170.52,239.42 C173.10,238.90 175.69,238.38 178.27,237.87 C180.85,237.35 183.43,236.89 186.02,236.32 C188.60,235.75 191.18,235.09 193.76,234.45 C196.35,233.82 198.93,233.16 201.51,232.51 C204.09,231.86 206.68,231.21 209.26,230.57 C211.84,229.92 214.43,229.46 217.01,228.62 C219.59,227.79 222.17,226.58 224.76,225.55 C227.34,224.52 229.92,223.49 232.50,222.46 C235.09,221.43 237.67,220.46 240.25,219.37 C242.83,218.28 245.42,216.98 248.00,215.90 C250.58,214.82 253.17,213.86 255.75,212.91 C258.33,211.96 260.91,211.08 263.50,210.21 C266.08,209.33 268.66,208.43 271.24,207.65 C273.83,206.87 276.41,206.27 278.99,205.51 C281.57,204.74 284.16,203.76 286.74,203.06 C289.32,202.35 291.91,201.94 294.49,201.27 C297.07,200.59 299.65,199.72 302.24,199.00 C304.82,198.28 307.40,197.51 309.98,196.93 C312.57,196.36 315.15,196.11 317.73,195.57 C320.31,195.02 322.90,194.20 325.48,193.68 C328.06,193.16 330.65,192.98 333.23,192.46 C335.81,191.93 338.39,191.08 340.98,190.53 C343.56,189.99 346.14,189.61 348.72,189.19 C351.31,188.78 353.89,188.48 356.47,188.06 C359.05,187.64 361.64,187.21 364.22,186.68 C366.80,186.15 369.39,185.40 371.97,184.87 C374.55,184.35 377.13,183.94 379.72,183.52 C382.30,183.10 384.88,182.64 387.46,182.35 C390.05,182.06 392.63,181.92 395.21,181.80 C397.79,181.68 400.38,181.74 402.96,181.64 C405.54,181.53 408.13,181.30 410.71,181.19 C413.29,181.07 415.87,181.08 418.46,180.93 C421.04,180.78 423.62,180.55 426.20,180.30 C428.79,180.05 431.37,179.42 433.95,179.43 C436.53,179.44 439.12,179.93 441.70,180.37 C444.28,180.81 446.87,181.46 449.45,182.06 C452.03,182.66 454.61,183.27 457.20,183.97 C459.78,184.67 462.36,185.42 464.94,186.25 C467.53,187.08 470.11,188.10 472.69,188.96 C475.27,189.83 477.86,190.72 480.44,191.43 C483.02,192.14 485.61,192.71 488.19,193.22 C490.77,193.72 493.35,193.91 495.94,194.46 C498.52,195.00 501.10,195.77 503.68,196.48 C506.27,197.18 508.85,197.97 511.43,198.69 C514.01,199.41 516.60,200.17 519.18,200.79 C521.76,201.41 524.35,201.85 526.93,202.41 C529.51,202.97 532.09,203.56 534.68,204.17 C537.26,204.78 539.84,205.47 542.42,206.09 C545.01,206.70 547.59,207.17 550.17,207.85 C552.75,208.54 555.34,209.37 557.92,210.21 C560.50,211.04 563.09,212.07 565.67,212.87 C568.25,213.68 570.83,214.35 573.42,215.05 C576.00,215.75 578.58,216.49 581.16,217.05 C583.75,217.61 586.33,218.06 588.91,218.40 C591.49,218.75 594.08,218.81 596.66,219.12 C599.24,219.43 601.83,219.99 604.41,220.26 C606.99,220.54 609.57,220.58 612.16,220.77 C614.74,220.96 617.32,221.30 619.90,221.41 C622.49,221.52 625.07,221.51 627.65,221.43 C630.23,221.36 632.82,221.00 635.40,220.96 C637.98,220.93 640.57,221.06 643.15,221.24 C645.73,221.42 648.31,221.80 650.90,222.02 C653.48,222.24 656.06,222.24 658.64,222.56 C661.23,222.88 663.81,223.51 666.39,223.95 C668.97,224.38 671.56,224.73 674.14,225.15 C676.72,225.58 679.31,225.76 681.89,226.49 C684.47,227.23 687.05,228.70 689.64,229.57 C692.22,230.45 694.80,230.96 697.38,231.72 C699.97,232.49 702.55,233.56 705.13,234.16 C707.71,234.77 710.30,235.01 712.88,235.37 C715.46,235.72 718.05,235.89 720.63,236.29 C723.21,236.69 725.79,237.45 728.38,237.77 C730.96,238.09 733.54,238.19 736.12,238.21 C738.71,238.22 741.29,237.88 743.87,237.84 C746.45,237.81 749.04,237.76 751.62,238.01 C754.20,238.26 756.79,238.89 759.37,239.33 C761.95,239.77 764.53,240.21 767.12,240.66 C769.70,241.11 772.28,241.57 774.86,242.04 C777.45,242.51 780.03,242.95 782.61,243.49 C785.19,244.03 787.78,244.78 790.36,245.29 C792.94,245.80 795.53,246.05 798.11,246.53 C800.69,247.01 803.27,247.71 805.86,248.17 C808.44,248.63 811.02,248.91 813.60,249.27 C816.19,249.63 818.77,249.90 821.35,250.33 C823.93,250.76 826.52,251.40 829.10,251.85 C831.68,252.30 834.27,252.59 836.85,253.02 C839.43,253.46 842.01,253.96 844.60,254.44 C847.18,254.93 851.05,255.68 852.34,255.93" fill="none" stroke="#b0866f" stroke-width="1.4"/>
<path d="M54.30,258.60 C55.59,258.58 59.47,258.50 62.05,258.45 C64.63,258.40 67.21,258.44 69.80,258.30 C72.38,258.17 74.96,257.87 77.54,257.65 C80.13,257.42 82.71,257.35 85.29,256.93 C87.87,256.51 90.46,255.74 93.04,255.12 C95.62,254.50 98.21,254.00 100.79,253.21 C103.37,252.42 105.95,251.33 108.54,250.37 C111.12,249.41 113.70,248.49 116.28,247.43 C118.87,246.37 121.45,245.08 124.03,244.02 C126.61,242.95 129.20,241.92 131.78,241.03 C134.36,240.14 136.95,239.45 139.53,238.67 C142.11,237.88 144.69,237.09 147.28,236.30 C149.86,235.51 152.44,234.71 155.02,233.94 C157.61,233.17 160.19,232.42 162.77,231.68 C165.35,230.94 167.94,230.32 170.52,229.50 C173.10,228.68 175.69,227.63 178.27,226.74 C180.85,225.85 183.43,224.94 186.02,224.13 C188.60,223.33 191.18,222.58 193.76,221.90 C196.35,221.22 198.93,220.88 201.51,220.05 C204.09,219.22 206.68,218.00 209.26,216.94 C211.84,215.89 214.43,214.95 217.01,213.74 C219.59,212.52 222.17,210.94 224.76,209.66 C227.34,208.37 229.92,207.18 232.50,206.03 C235.09,204.87 237.67,203.73 240.25,202.75 C242.83,201.76 245.42,200.68 248.00,200.13 C250.58,199.57 253.17,199.79 255.75,199.42 C258.33,199.04 260.91,198.30 263.50,197.90 C266.08,197.50 268.66,197.33 271.24,197.03 C273.83,196.72 276.41,196.51 278.99,196.05 C281.57,195.58 284.16,194.83 286.74,194.22 C289.32,193.60 291.91,192.96 294.49,192.38 C297.07,191.80 299.65,191.34 302.24,190.74 C304.82,190.14 307.40,189.30 309.98,188.76 C312.57,188.22 315.15,188.17 317.73,187.52 C320.31,186.86 322.90,185.74 325.48,184.84 C328.06,183.93 330.65,182.98 333.23,182.10 C335.81,181.22 338.39,180.47 340.98,179.57 C343.56,178.66 346.14,177.52 348.72,176.67 C351.31,175.81 353.89,174.96 356.47,174.42 C359.05,173.88 361.64,173.67 364.22,173.45 C366.80,173.22 369.39,173.10 371.97,173.09 C374.55,173.09 377.13,173.22 379.72,173.39 C382.30,173.56 384.88,173.74 387.46,174.14 C390.05,174.54 392.63,175.15 395.21,175.80 C397.79,176.44 400.38,177.49 402.96,178.02 C405.54,178.54 408.13,178.66 410.71,178.95 C413.29,179.24 415.87,179.46 418.46,179.73 C421.04,180.00 423.62,180.38 426.20,180.56 C428.79,180.73 431.37,180.38 433.95,180.78 C436.53,181.17 439.12,182.22 441.70,182.92 C444.28,183.61 446.87,184.23 449.45,184.93 C452.03,185.63 454.61,186.27 457.20,187.11 C459.78,187.96 462.36,189.05 464.94,190.00 C467.53,190.96 470.11,191.72 472.69,192.84 C475.27,193.97 477.86,195.46 480.44,196.75 C483.02,198.04 485.61,199.38 488.19,200.56 C490.77,201.73 493.35,202.55 495.94,203.79 C498.52,205.02 501.10,206.58 503.68,207.95 C506.27,209.32 508.85,210.75 511.43,211.99 C514.01,213.22 516.60,214.27 519.18,215.38 C521.76,216.50 524.35,217.63 526.93,218.69 C529.51,219.74 532.09,220.76 534.68,221.71 C537.26,222.66 539.84,223.55 542.42,224.37 C545.01,225.18 547.59,226.04 550.17,226.59 C552.75,227.14 555.34,227.18 557.92,227.69 C560.50,228.20 563.09,229.12 565.67,229.63 C568.25,230.14 570.83,230.39 573.42,230.75 C576.00,231.11 578.58,231.44 581.16,231.79 C583.75,232.15 586.33,232.91 588.91,232.88 C591.49,232.84 594.08,231.99 596.66,231.58 C599.24,231.16 601.83,230.89 604.41,230.40 C606.99,229.90 609.57,229.17 612.16,228.59 C614.74,228.00 617.32,227.57 619.90,226.89 C622.49,226.20 625.07,225.26 627.65,224.50 C630.23,223.73 632.82,222.90 635.40,222.31 C637.98,221.73 640.57,221.19 643.15,220.98 C645.73,220.78 648.31,221.29 650.90,221.08 C653.48,220.86 656.06,220.08 658.64,219.68 C661.23,219.27 663.81,218.70 666.39,218.67 C668.97,218.63 671.56,219.06 674.14,219.46 C676.72,219.85 679.31,220.09 681.89,221.06 C684.47,222.02 687.05,223.98 689.64,225.22 C692.22,226.45 694.80,227.27 697.38,228.46 C699.97,229.64 702.55,231.30 705.13,232.31 C707.71,233.31 710.30,233.93 712.88,234.49 C715.46,235.05 718.05,235.11 720.63,235.68 C723.21,236.24 725.79,237.20 728.38,237.87 C730.96,238.53 733.54,239.13 736.12,239.68 C738.71,240.23 741.29,240.47 743.87,241.14 C746.45,241.82 749.04,242.69 751.62,243.72 C754.20,244.74 756.79,245.99 759.37,247.29 C761.95,248.60 764.53,250.21 767.12,251.55 C769.70,252.88 772.28,253.95 774.86,255.31 C777.45,256.66 780.03,258.20 782.61,259.68 C785.19,261.15 787.78,262.87 790.36,264.18 C792.94,265.50 795.53,266.60 798.11,267.56 C800.69,268.53 803.27,269.25 805.86,269.97 C808.44,270.69 811.02,271.45 813.60,271.86 C816.19,272.27 818.77,272.49 821.35,272.45 C823.93,272.41 826.52,272.00 829.10,271.62 C831.68,271.24 834.27,271.14 836.85,270.19 C839.43,269.24 842.01,267.06 844.60,265.89 C847.18,264.72 851.05,263.64 852.34,263.19" fill="none" stroke="#8a83ab" stroke-width="1.4"/>
<path d="M54.30,252.00 C55.59,251.82 59.47,251.10 62.05,250.90 C64.63,250.70 67.21,251.10 69.80,250.80 C72.38,250.50 74.96,250.00 77.54,249.10 C80.13,248.20 82.71,246.78 85.29,245.40 C87.87,244.02 90.46,242.42 93.04,240.80 C95.62,239.18 98.21,237.03 100.79,235.70 C103.37,234.37 105.95,234.06 108.54,232.80 C111.12,231.54 113.70,229.55 116.28,228.15 C118.87,226.75 121.45,225.63 124.03,224.40 C126.61,223.17 129.20,221.63 131.78,220.74 C134.36,219.85 136.95,219.91 139.53,219.04 C142.11,218.17 144.69,216.48 147.28,215.52 C149.86,214.56 152.44,213.92 155.02,213.28 C157.61,212.64 160.19,211.99 162.77,211.67 C165.35,211.35 167.94,211.12 170.52,211.37 C173.10,211.62 175.69,212.99 178.27,213.17 C180.85,213.35 183.43,212.29 186.02,212.47 C188.60,212.65 191.18,213.77 193.76,214.25 C196.35,214.73 198.93,215.52 201.51,215.34 C204.09,215.16 206.68,214.30 209.26,213.15 C211.84,212.00 214.43,209.99 217.01,208.43 C219.59,206.87 222.17,205.40 224.76,203.79 C227.34,202.18 229.92,200.43 232.50,198.77 C235.09,197.11 237.67,195.47 240.25,193.82 C242.83,192.17 245.42,190.24 248.00,188.88 C250.58,187.52 253.17,186.59 255.75,185.66 C258.33,184.73 260.91,184.31 263.50,183.33 C266.08,182.35 268.66,180.90 271.24,179.80 C273.83,178.70 276.41,177.50 278.99,176.75 C281.57,176.00 284.16,175.35 286.74,175.28 C289.32,175.21 291.91,175.93 294.49,176.33 C297.07,176.73 299.65,177.29 302.24,177.69 C304.82,178.09 307.40,178.16 309.98,178.75 C312.57,179.34 315.15,180.87 317.73,181.21 C320.31,181.55 322.90,181.24 325.48,180.79 C328.06,180.35 330.65,179.37 333.23,178.54 C335.81,177.71 338.39,176.64 340.98,175.80 C343.56,174.97 346.14,174.15 348.72,173.53 C351.31,172.91 353.89,172.41 356.47,172.09 C359.05,171.77 361.64,171.98 364.22,171.61 C366.80,171.24 369.39,170.28 371.97,169.86 C374.55,169.44 377.13,169.15 379.72,169.09 C382.30,169.03 384.88,169.31 387.46,169.53 C390.05,169.75 392.63,169.43 395.21,170.38 C397.79,171.33 400.38,173.74 402.96,175.24 C405.54,176.74 408.13,177.96 410.71,179.36 C413.29,180.76 415.87,182.29 418.46,183.66 C421.04,185.03 423.62,186.61 426.20,187.58 C428.79,188.55 431.37,188.35 433.95,189.46 C436.53,190.57 439.12,192.46 441.70,194.22 C444.28,195.98 446.87,198.18 449.45,200.00 C452.03,201.82 454.61,203.38 457.20,205.13 C459.78,206.87 462.36,208.77 464.94,210.47 C467.53,212.16 470.11,214.00 472.69,215.30 C475.27,216.60 477.86,217.19 480.44,218.26 C483.02,219.33 485.61,220.81 488.19,221.75 C490.77,222.69 493.35,222.81 495.94,223.91 C498.52,225.00 501.10,226.55 503.68,228.32 C506.27,230.09 508.85,233.14 511.43,234.51 C514.01,235.88 516.60,236.07 519.18,236.55 C521.76,237.03 524.35,237.08 526.93,237.37 C529.51,237.66 532.09,238.14 534.68,238.29 C537.26,238.44 539.84,238.33 542.42,238.26 C545.01,238.19 547.59,238.07 550.17,237.88 C552.75,237.69 555.34,237.18 557.92,237.12 C560.50,237.06 563.09,237.43 565.67,237.51 C568.25,237.59 570.83,237.95 573.42,237.58 C576.00,237.20 578.58,236.32 581.16,235.26 C583.75,234.20 586.33,232.68 588.91,231.24 C591.49,229.80 594.08,227.90 596.66,226.60 C599.24,225.30 601.83,224.71 604.41,223.42 C606.99,222.13 609.57,220.20 612.16,218.88 C614.74,217.56 617.32,216.80 619.90,215.51 C622.49,214.22 625.07,212.44 627.65,211.11 C630.23,209.78 632.82,208.62 635.40,207.51 C637.98,206.40 640.57,204.95 643.15,204.46 C645.73,203.97 648.31,204.63 650.90,204.57 C653.48,204.51 656.06,203.84 658.64,204.09 C661.23,204.34 663.81,204.72 666.39,206.09 C668.97,207.46 671.56,210.21 674.14,212.31 C676.72,214.41 679.31,215.48 681.89,218.69 C684.47,221.90 687.05,227.77 689.64,231.55 C692.22,235.34 694.80,237.74 697.38,241.40 C699.97,245.06 702.55,250.16 705.13,253.50 C707.71,256.84 710.30,259.24 712.88,261.47 C715.46,263.70 718.05,265.27 720.63,266.89 C723.21,268.50 725.79,269.76 728.38,271.16 C730.96,272.56 733.54,274.43 736.12,275.27 C738.71,276.11 741.29,276.23 743.87,276.20 C746.45,276.17 749.04,275.17 751.62,275.12 C754.20,275.07 756.79,276.49 759.37,275.89 C761.95,275.29 764.53,272.65 767.12,271.54 C769.70,270.43 772.28,270.16 774.86,269.21 C777.45,268.26 780.03,266.24 782.61,265.85 C785.19,265.46 787.78,266.49 790.36,266.89 C792.94,267.29 795.53,267.93 798.11,268.24 C800.69,268.56 803.27,268.75 805.86,268.78 C808.44,268.82 811.02,268.46 813.60,268.45 C816.19,268.44 818.77,268.75 821.35,268.70 C823.93,268.64 826.52,268.82 829.10,268.12 C831.68,267.42 834.27,265.80 836.85,264.49 C839.43,263.18 842.01,261.46 844.60,260.24 C847.18,259.02 851.05,257.69 852.34,257.18" fill="none" stroke="#b02548" stroke-width="1.4"/>
<path d="M54.30,245.00 C55.59,245.20 59.47,245.47 62.05,246.20 C64.63,246.93 67.21,248.87 69.80,249.40 C72.38,249.93 74.96,250.07 77.54,249.40 C80.13,248.73 82.71,247.53 85.29,245.40 C87.87,243.27 90.46,239.97 93.04,236.60 C95.62,233.23 98.21,228.60 100.79,225.20 C103.37,221.80 105.95,219.25 108.54,216.20 C111.12,213.15 113.70,209.03 116.28,206.90 C118.87,204.77 121.45,203.74 124.03,203.40 C126.61,203.06 129.20,203.30 131.78,204.88 C134.36,206.46 136.95,211.22 139.53,212.88 C142.11,214.54 144.69,213.71 147.28,214.84 C149.86,215.97 152.44,218.81 155.02,219.66 C157.61,220.51 160.19,220.24 162.77,219.94 C165.35,219.64 167.94,218.94 170.52,217.86 C173.10,216.78 175.69,214.75 178.27,213.46 C180.85,212.17 183.43,210.87 186.02,210.10 C188.60,209.33 191.18,208.73 193.76,208.84 C196.35,208.95 198.93,210.81 201.51,210.74 C204.09,210.67 206.68,209.66 209.26,208.44 C211.84,207.22 214.43,205.23 217.01,203.40 C219.59,201.57 222.17,199.93 224.76,197.48 C227.34,195.03 229.92,192.13 232.50,188.70 C235.09,185.27 237.67,180.13 240.25,176.90 C242.83,173.67 245.42,170.82 248.00,169.32 C250.58,167.82 253.17,167.94 255.75,167.92 C258.33,167.90 260.91,168.68 263.50,169.18 C266.08,169.68 268.66,169.66 271.24,170.90 C273.83,172.14 276.41,174.88 278.99,176.60 C281.57,178.32 284.16,179.88 286.74,181.24 C289.32,182.60 291.91,183.91 294.49,184.74 C297.07,185.57 299.65,185.89 302.24,186.20 C304.82,186.51 307.40,186.66 309.98,186.60 C312.57,186.54 315.15,186.86 317.73,185.82 C320.31,184.78 322.90,182.59 325.48,180.34 C328.06,178.09 330.65,174.83 333.23,172.34 C335.81,169.85 338.39,167.38 340.98,165.40 C343.56,163.42 346.14,161.63 348.72,160.46 C351.31,159.29 353.89,157.96 356.47,158.36 C359.05,158.76 361.64,161.38 364.22,162.88 C366.80,164.38 369.39,165.73 371.97,167.38 C374.55,169.03 377.13,170.91 379.72,172.78 C382.30,174.65 384.88,177.00 387.46,178.60 C390.05,180.20 392.63,180.90 395.21,182.40 C397.79,183.90 400.38,186.11 402.96,187.60 C405.54,189.09 408.13,190.18 410.71,191.34 C413.29,192.50 415.87,193.67 418.46,194.54 C421.04,195.41 423.62,196.23 426.20,196.56 C428.79,196.89 431.37,195.81 433.95,196.52 C436.53,197.23 439.12,198.82 441.70,200.84 C444.28,202.86 446.87,206.18 449.45,208.66 C452.03,211.14 454.61,213.10 457.20,215.72 C459.78,218.34 462.36,221.32 464.94,224.38 C467.53,227.44 470.11,232.20 472.69,234.08 C475.27,235.96 477.86,235.55 480.44,235.68 C483.02,235.81 485.61,235.44 488.19,234.84 C490.77,234.24 493.35,232.53 495.94,232.10 C498.52,231.67 501.10,231.79 503.68,232.26 C506.27,232.73 508.85,234.08 511.43,234.94 C514.01,235.80 516.60,236.59 519.18,237.42 C521.76,238.25 524.35,238.72 526.93,239.90 C529.51,241.08 532.09,243.75 534.68,244.48 C537.26,245.21 539.84,244.87 542.42,244.26 C545.01,243.65 547.59,242.06 550.17,240.82 C552.75,239.58 555.34,237.77 557.92,236.82 C560.50,235.87 563.09,236.14 565.67,235.12 C568.25,234.10 570.83,232.16 573.42,230.68 C576.00,229.20 578.58,227.76 581.16,226.26 C583.75,224.76 586.33,223.31 588.91,221.66 C591.49,220.01 594.08,218.04 596.66,216.38 C599.24,214.72 601.83,213.27 604.41,211.72 C606.99,210.17 609.57,208.24 612.16,207.08 C614.74,205.92 617.32,205.85 619.90,204.76 C622.49,203.67 625.07,201.58 627.65,200.56 C630.23,199.54 632.82,199.20 635.40,198.64 C637.98,198.08 640.57,196.63 643.15,197.20 C645.73,197.77 648.31,201.02 650.90,202.06 C653.48,203.10 656.06,201.83 658.64,203.42 C661.23,205.01 663.81,207.86 666.39,211.62 C668.97,215.38 671.56,221.22 674.14,225.98 C676.72,230.74 679.31,234.34 681.89,240.18 C684.47,246.02 687.05,254.51 689.64,261.04 C692.22,267.57 694.80,273.66 697.38,279.38 C699.97,285.10 702.55,292.45 705.13,295.38 C707.71,298.31 710.30,297.26 712.88,296.96 C715.46,296.66 718.05,296.21 720.63,293.60 C723.21,290.99 725.79,285.02 728.38,281.28 C730.96,277.54 733.54,275.20 736.12,271.16 C738.71,267.12 741.29,260.00 743.87,257.02 C746.45,254.04 749.04,253.09 751.62,253.28 C754.20,253.47 756.79,256.76 759.37,258.18 C761.95,259.60 764.53,260.29 767.12,261.80 C769.70,263.31 772.28,265.11 774.86,267.26 C777.45,269.41 780.03,272.47 782.61,274.68 C785.19,276.89 787.78,279.90 790.36,280.50 C792.94,281.10 795.53,279.09 798.11,278.30 C800.69,277.51 803.27,277.20 805.86,275.76 C808.44,274.32 811.02,271.81 813.60,269.64 C816.19,267.47 818.77,265.04 821.35,262.72 C823.93,260.40 826.52,257.75 829.10,255.74 C831.68,253.73 834.27,252.52 836.85,250.68 C839.43,248.84 842.01,245.71 844.60,244.72 C847.18,243.73 851.05,244.72 852.34,244.72" fill="none" stroke="#dcc23a" stroke-width="1.4"/>
<text x="52" y="38" font-family="Liberation Sans" font-size="19.4" font-weight="bold" fill="#f2f2f2" text-anchor="start" textLength="47.5" lengthAdjust="spacingAndGlyphs">USDX</text>
<line x1="119" y1="24" x2="119" y2="39" stroke="#1f1f1f" stroke-width="1"/>
<text x="138" y="38" font-family="Liberation Sans" font-size="19.4" font-weight="bold" fill="#f2f2f2" text-anchor="start" textLength="59.2" lengthAdjust="spacingAndGlyphs">97.626</text>
<rect x="209" y="20" width="125" height="23" rx="3" fill="#33141a"/>
<text x="213" y="37.7" font-family="Liberation Sans" font-size="17.2" font-weight="normal" fill="#e8364f" text-anchor="start" textLength="116" lengthAdjust="spacingAndGlyphs" stroke="#e8364f" stroke-width="0.35">-0.183 (-0.19%)</text>
<line x1="352" y1="24" x2="352" y2="39" stroke="#1f1f1f" stroke-width="1"/>
<text x="370.6" y="36.6" font-family="Liberation Sans" font-size="15" font-weight="normal" fill="#bdbdbd" text-anchor="start" textLength="53.2" lengthAdjust="spacingAndGlyphs" stroke="#bdbdbd" stroke-width="0.35">07:05:01</text>
<g fill="none" stroke="#eeeeee" stroke-width="1.6"><rect x="867.3" y="22.2" width="15.3" height="18.3" rx="1.5"/><line x1="879.2" y1="22.2" x2="879.2" y2="40.5"/><line x1="865" y1="27.1" x2="870" y2="27.1"/><line x1="865" y1="31.5" x2="870" y2="31.5"/><line x1="865" y1="36.2" x2="870" y2="36.2"/><path d="M917.5,31.2 L922.3,22.6 L932.3,22.6 L937.1,31.2 L932.3,39.8 L922.3,39.8 Z"/><circle cx="927.3" cy="31.2" r="3.2"/><line x1="972.3" y1="25.3" x2="984" y2="37.2"/><line x1="984" y1="25.3" x2="972.3" y2="37.2"/></g>
<text x="52.1" y="90.0" font-family="Liberation Sans" font-size="13.6" font-weight="normal" fill="#999999" text-anchor="start" textLength="24.0" lengthAdjust="spacingAndGlyphs" stroke="#999999" stroke-width="0.35">Tick</text>
<text x="156.2" y="90.0" font-family="Liberation Sans" font-size="13.6" font-weight="normal" fill="#999999" text-anchor="start" textLength="17.2" lengthAdjust="spacingAndGlyphs" stroke="#999999" stroke-width="0.35">1m</text>
<text x="247" y="90.0" font-family="Liberation Sans" font-size="13.6" font-weight="normal" fill="#999999" text-anchor="start" textLength="18.6" lengthAdjust="spacingAndGlyphs" stroke="#999999" stroke-width="0.35">5m</text>
<text x="339.5" y="90.0" font-family="Liberation Sans" font-size="13.6" font-weight="normal" fill="#999999" text-anchor="start" textLength="26.2" lengthAdjust="spacingAndGlyphs" stroke="#999999" stroke-width="0.35">15m</text>
<text x="441" y="90.0" font-family="Liberation Sans" font-size="13.6" font-weight="normal" fill="#999999" text-anchor="start" textLength="26.6" lengthAdjust="spacingAndGlyphs" stroke="#999999" stroke-width="0.35">30m</text>
<text x="540.5" y="90.0" font-family="Liberation Sans" font-size="13.6" font-weight="normal" fill="#999999" text-anchor="start" textLength="15.2" lengthAdjust="spacingAndGlyphs" stroke="#999999" stroke-width="0.35">1h</text>
<text x="626.6" y="90.0" font-family="Liberation Sans" font-size="13.6" font-weight="normal" fill="#999999" text-anchor="start" textLength="15.2" lengthAdjust="spacingAndGlyphs" stroke="#999999" stroke-width="0.35">4h</text>
<text x="801" y="90.0" font-family="Liberation Sans" font-size="13.6" font-weight="normal" fill="#999999" text-anchor="start" textLength="19" lengthAdjust="spacingAndGlyphs" stroke="#999999" stroke-width="0.35">1W</text>
<text x="896.5" y="90.0" font-family="Liberation Sans" font-size="13.6" font-weight="normal" fill="#999999" text-anchor="start" textLength="18.1" lengthAdjust="spacingAndGlyphs" stroke="#999999" stroke-width="0.35">1M</text>
<text x="710.7" y="92.6" font-family="Liberation Sans" font-size="18.6" font-weight="bold" fill="#f2f2f2" text-anchor="start" textLength="21.3" lengthAdjust="spacingAndGlyphs">1D</text>
<g fill="none" stroke="#99a0ad" stroke-width="1.9" stroke-linejoin="round"><path d="M953.5,102.3 L953.8,98.5 L961.8,90.5 L965.5,94 L957.3,102 Z"/><line x1="959" y1="102.5" x2="967.8" y2="102.5"/></g>
<line x1="946.5" y1="120" x2="972" y2="120" stroke="#1e1e1e" stroke-width="1"/>
<text x="948.2" y="148.4" font-family="Liberation Sans" font-size="14.2" font-weight="normal" fill="#f5f5f5" text-anchor="start" textLength="21.8" lengthAdjust="spacingAndGlyphs" stroke="#f5f5f5" stroke-width="0.5">MA</text>
<text x="942.2" y="190" font-family="Liberation Sans" font-size="14.2" font-weight="normal" fill="#cfcfcf" text-anchor="start" textLength="33.8" lengthAdjust="spacingAndGlyphs" stroke="#cfcfcf" stroke-width="0.5">BOLL</text>
<text x="946" y="232" font-family="Liberation Sans" font-size="14.2" font-weight="normal" fill="#cfcfcf" text-anchor="start" textLength="25" lengthAdjust="spacingAndGlyphs" stroke="#cfcfcf" stroke-width="0.5">BBI</text>
<text x="945.8" y="273.3" font-family="Liberation Sans" font-size="14.2" font-weight="normal" fill="#f5f5f5" text-anchor="start" textLength="26.5" lengthAdjust="spacingAndGlyphs" stroke="#f5f5f5" stroke-width="0.5">VOL</text>
<text x="938.8" y="316.2" font-family="Liberation Sans" font-size="14.2" font-weight="normal" fill="#cfcfcf" text-anchor="start" textLength="39.6" lengthAdjust="spacingAndGlyphs" stroke="#cfcfcf" stroke-width="0.5">MACD</text>
<text x="945.8" y="357.2" font-family="Liberation Sans" font-size="14.2" font-weight="normal" fill="#cfcfcf" text-anchor="start" textLength="26.0" lengthAdjust="spacingAndGlyphs" stroke="#cfcfcf" stroke-width="0.5">KDJ</text>
<text x="948.7" y="399.8" font-family="Liberation Sans" font-size="14.2" font-weight="normal" fill="#cfcfcf" text-anchor="start" textLength="20.8" lengthAdjust="spacingAndGlyphs" stroke="#cfcfcf" stroke-width="0.5">RSI</text>
<text x="948.2" y="441.9" font-family="Liberation Sans" font-size="14.2" font-weight="normal" fill="#cfcfcf" text-anchor="start" textLength="22.7" lengthAdjust="spacingAndGlyphs" stroke="#cfcfcf" stroke-width="0.5">CCI</text>
<text x="65.4" y="129.3" font-family="Liberation Sans" font-size="11.8" font-weight="normal" fill="#e3c42e" text-anchor="start" textLength="58.5" lengthAdjust="spacingAndGlyphs" stroke="#e3c42e" stroke-width="0.35">MA5:97.702</text>
<text x="127.5" y="129.3" font-family="Liberation Sans" font-size="11.8" font-weight="normal" fill="#d92a4e" text-anchor="start" textLength="64.2" lengthAdjust="spacingAndGlyphs" stroke="#d92a4e" stroke-width="0.35">MA10:97.363</text>
<text x="197.2" y="129.3" font-family="Liberation Sans" font-size="11.8" font-weight="normal" fill="#a89ccc" text-anchor="start" textLength="63.4" lengthAdjust="spacingAndGlyphs" stroke="#a89ccc" stroke-width="0.35">MA20:97.209</text>
<text x="265" y="129.3" font-family="Liberation Sans" font-size="11.8" font-weight="normal" fill="#d68a6e" text-anchor="start" textLength="64.3" lengthAdjust="spacingAndGlyphs" stroke="#d68a6e" stroke-width="0.35">MA30:97.402</text>
<text x="920.4" y="129.6" font-family="Liberation Sans" font-size="11.8" font-weight="normal" fill="#8a8a8a" text-anchor="end" textLength="39.8" lengthAdjust="spacingAndGlyphs" stroke="#8a8a8a" stroke-width="0.35">100.728</text>
<text x="920.4" y="186.4" font-family="Liberation Sans" font-size="11.8" font-weight="normal" fill="#8a8a8a" text-anchor="end" textLength="33.4" lengthAdjust="spacingAndGlyphs" stroke="#8a8a8a" stroke-width="0.35">99.279</text>
<text x="920.4" y="298.4" font-family="Liberation Sans" font-size="11.8" font-weight="normal" fill="#8a8a8a" text-anchor="end" textLength="32.6" lengthAdjust="spacingAndGlyphs" stroke="#8a8a8a" stroke-width="0.35">96.381</text>
<text x="920.4" y="354.4" font-family="Liberation Sans" font-size="11.8" font-weight="normal" fill="#8a8a8a" text-anchor="end" textLength="33.8" lengthAdjust="spacingAndGlyphs" stroke="#8a8a8a" stroke-width="0.35">94.932</text>
<text x="920.1" y="402.7" font-family="Liberation Sans" font-size="11.8" font-weight="normal" fill="#8a8a8a" text-anchor="end" textLength="51.7" lengthAdjust="spacingAndGlyphs" stroke="#8a8a8a" stroke-width="0.35">37598.000</text>
<text x="920.1" y="452.9" font-family="Liberation Sans" font-size="11.8" font-weight="normal" fill="#8a8a8a" text-anchor="end" textLength="27.4" lengthAdjust="spacingAndGlyphs" stroke="#8a8a8a" stroke-width="0.35">0.000</text>
<line x1="857" y1="244.8" x2="877" y2="244.8" stroke="#3d7a58" stroke-width="1" stroke-dasharray="3,3"/>
<line x1="857" y1="248" x2="877" y2="248" stroke="#5e3440" stroke-width="1" stroke-dasharray="3,3"/>
<rect x="878" y="228" width="42.5" height="17" fill="#131313" stroke="#2a9e62" stroke-width="1.1"/>
<text x="898.5" y="240.2" font-family="Liberation Sans" font-size="11.4" font-weight="normal" fill="#2db56d" text-anchor="middle" textLength="32" lengthAdjust="spacingAndGlyphs" stroke="#2db56d" stroke-width="0.45">97.671</text>
<rect x="878" y="248" width="42.5" height="17.5" fill="#131313" stroke="#b82a45" stroke-width="1.1"/>
<text x="898.5" y="260.2" font-family="Liberation Sans" font-size="11.4" font-weight="normal" fill="#dc3450" text-anchor="middle" textLength="32" lengthAdjust="spacingAndGlyphs" stroke="#dc3450" stroke-width="0.45">97.626</text>
<polyline points="333,148 333,147.8 355.5,147.8" fill="none" stroke="#cfcfcf" stroke-width="1"/>
<text x="358.6" y="152" font-family="Liberation Sans" font-size="11.3" font-weight="normal" fill="#e6e6e6" text-anchor="start" textLength="37.5" lengthAdjust="spacingAndGlyphs" stroke="#e6e6e6" stroke-width="0.6">100.321</text>
<polyline points="689.6,330 689.6,332 711.5,332" fill="none" stroke="#cfcfcf" stroke-width="1"/>
<text x="714" y="336.7" font-family="Liberation Sans" font-size="11.3" font-weight="normal" fill="#e6e6e6" text-anchor="start" textLength="33.2" lengthAdjust="spacingAndGlyphs" stroke="#e6e6e6" stroke-width="0.6">95.339</text>
<text x="85.3" y="373.2" font-family="Liberation Sans" font-size="11.8" font-weight="normal" fill="#ababab" text-anchor="middle" textLength="28.7" lengthAdjust="spacingAndGlyphs" stroke="#ababab" stroke-width="0.5">07/10</text>
<text x="155.0" y="373.2" font-family="Liberation Sans" font-size="11.8" font-weight="normal" fill="#ababab" text-anchor="middle" textLength="28.7" lengthAdjust="spacingAndGlyphs" stroke="#ababab" stroke-width="0.5">20/10</text>
<text x="224.8" y="373.2" font-family="Liberation Sans" font-size="11.8" font-weight="normal" fill="#ababab" text-anchor="middle" textLength="28.7" lengthAdjust="spacingAndGlyphs" stroke="#ababab" stroke-width="0.5">31/10</text>
<text x="294.5" y="373.2" font-family="Liberation Sans" font-size="11.8" font-weight="normal" fill="#ababab" text-anchor="middle" textLength="28.7" lengthAdjust="spacingAndGlyphs" stroke="#ababab" stroke-width="0.5">13/11</text>
<text x="364.2" y="373.2" font-family="Liberation Sans" font-size="11.8" font-weight="normal" fill="#ababab" text-anchor="middle" textLength="28.7" lengthAdjust="spacingAndGlyphs" stroke="#ababab" stroke-width="0.5">26/11</text>
<text x="434.0" y="373.2" font-family="Liberation Sans" font-size="11.8" font-weight="normal" fill="#ababab" text-anchor="middle" textLength="28.7" lengthAdjust="spacingAndGlyphs" stroke="#ababab" stroke-width="0.5">09/12</text>
<text x="503.7" y="373.2" font-family="Liberation Sans" font-size="11.8" font-weight="normal" fill="#ababab" text-anchor="middle" textLength="28.7" lengthAdjust="spacingAndGlyphs" stroke="#ababab" stroke-width="0.5">22/12</text>
<text x="573.4" y="373.2" font-family="Liberation Sans" font-size="11.8" font-weight="normal" fill="#ababab" text-anchor="middle" textLength="28.7" lengthAdjust="spacingAndGlyphs" stroke="#ababab" stroke-width="0.5">06/01</text>
<text x="643.1" y="373.2" font-family="Liberation Sans" font-size="11.8" font-weight="normal" fill="#ababab" text-anchor="middle" textLength="28.7" lengthAdjust="spacingAndGlyphs" stroke="#ababab" stroke-width="0.5">19/01</text>
<text x="712.9" y="373.2" font-family="Liberation Sans" font-size="11.8" font-weight="normal" fill="#ababab" text-anchor="middle" textLength="28.7" lengthAdjust="spacingAndGlyphs" stroke="#ababab" stroke-width="0.5">30/01</text>
<text x="782.6" y="373.2" font-family="Liberation Sans" font-size="11.8" font-weight="normal" fill="#ababab" text-anchor="middle" textLength="28.7" lengthAdjust="spacingAndGlyphs" stroke="#ababab" stroke-width="0.5">12/02</text>
<text x="852.3" y="373.2" font-family="Liberation Sans" font-size="11.8" font-weight="normal" fill="#ababab" text-anchor="middle" textLength="28.7" lengthAdjust="spacingAndGlyphs" stroke="#ababab" stroke-width="0.5">25/02</text>
<text x="64.7" y="395.6" font-family="Liberation Sans" font-size="11.8" font-weight="normal" fill="#dddddd" text-anchor="start" textLength="68.7" lengthAdjust="spacingAndGlyphs" stroke="#dddddd" stroke-width="0.35">VOL:2951.000</text>
<text x="136.6" y="395.6" font-family="Liberation Sans" font-size="11.8" font-weight="normal" fill="#e3c42e" text-anchor="start" textLength="78.1" lengthAdjust="spacingAndGlyphs" stroke="#e3c42e" stroke-width="0.35">MA5:17757.000</text>
<text x="217.8" y="395.6" font-family="Liberation Sans" font-size="11.8" font-weight="normal" fill="#d92a4e" text-anchor="start" textLength="84.4" lengthAdjust="spacingAndGlyphs" stroke="#d92a4e" stroke-width="0.35">MA10:18315.000</text>
</svg>
</body></html>
